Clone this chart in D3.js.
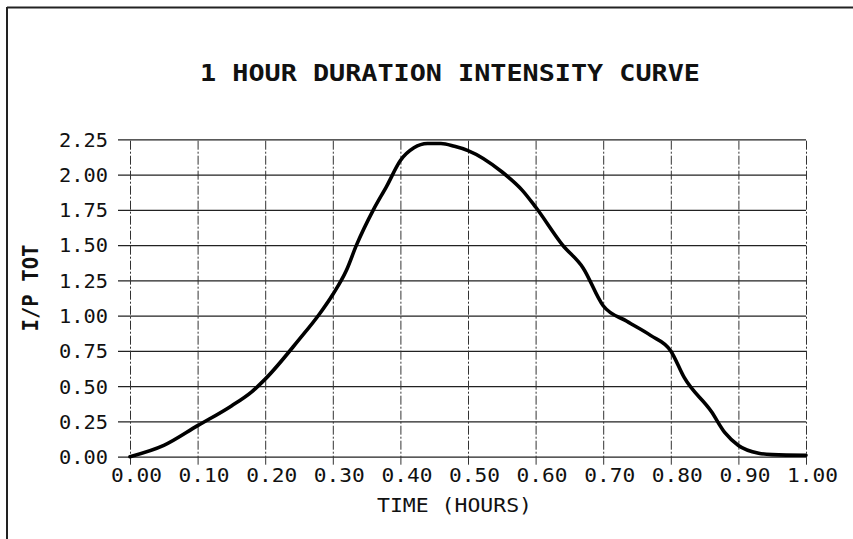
<!DOCTYPE html>
<html>
<head>
<meta charset="utf-8">
<script src="https://cdn.jsdelivr.net/npm/d3@7"></script>
<style>
  html, body { margin: 0; padding: 0; background: #fff; }
  svg { display: block; }
  .tick text, .lbl { font-family: "DejaVu Sans Mono", monospace; font-feature-settings: "zero" 1; fill: #111; }
</style>
</head>
<body>
<svg id="chart" width="853" height="539"></svg>
<script>
// Dimensionless rainfall intensity (I/P TOT) over a one-hour storm
const timeHours = [0.00, 0.05, 0.10, 0.15, 0.18, 0.20, 0.25, 0.28, 0.30, 0.32, 0.335, 0.36, 0.38, 0.40, 0.42, 0.44, 0.46, 0.48, 0.50, 0.55, 0.58, 0.60, 0.64, 0.67, 0.70, 0.735, 0.77, 0.80, 0.82, 0.86, 0.88, 0.90, 0.93, 0.95, 1.00];
const intensity = [0.00, 0.08, 0.22, 0.36, 0.46, 0.55, 0.83, 1.01, 1.15, 1.32, 1.50, 1.75, 1.92, 2.10, 2.19, 2.22, 2.22, 2.20, 2.17, 2.02, 1.89, 1.77, 1.50, 1.34, 1.07, 0.96, 0.86, 0.75, 0.56, 0.32, 0.17, 0.08, 0.025, 0.015, 0.01];

const xTickValues = [0, 0.1, 0.2, 0.3, 0.4, 0.5, 0.6, 0.7, 0.8, 0.9, 1.0];
const xTickLabels = ["0.00", "0.10", "0.20", "0.30", "0.40", "0.50", "0.60", "0.70", "0.80", "0.90", "1.00"];
const yTickValues = [0, 0.25, 0.5, 0.75, 1.0, 1.25, 1.5, 1.75, 2.0, 2.25];
const yTickLabels = ["0.00", "0.25", "0.50", "0.75", "1.00", "1.25", "1.50", "1.75", "2.00", "2.25"];

const titleText = "1  HOUR DURATION INTENSITY CURVE";
const xTitle = "TIME (HOURS)";
const yTitle = "I/P TOT";

const svg = d3.select("#chart");

const plot = { left: 130, right: 806, top: 139.3, bottom: 456.7 };
const x = d3.scaleLinear().domain([0, 1]).range([plot.left, plot.right]);
const y = d3.scaleLinear().domain([0, 2.25]).range([plot.bottom, plot.top]);

// page frame (top and left edges)
svg.append("line").attr("x1", 7).attr("y1", 7.5).attr("x2", 853).attr("y2", 7.5)
  .attr("stroke", "#222").attr("stroke-width", 2);
svg.append("line").attr("x1", 7).attr("y1", 7).attr("x2", 7).attr("y2", 539)
  .attr("stroke", "#222").attr("stroke-width", 2);

// horizontal grid with left ticks and labels
const yAxisX = plot.left - 12;
const yAxis = d3.axisLeft(y)
  .tickValues(yTickValues)
  .tickFormat((d, i) => yTickLabels[i])
  .tickSize(-(plot.right - yAxisX))
  .tickPadding(10);
const gy = svg.append("g").attr("transform", `translate(${yAxisX},0)`).call(yAxis);
gy.select(".domain").remove();
gy.selectAll(".tick line").attr("stroke", "#222").attr("stroke-width", 1.2);
gy.selectAll(".tick text")
  .attr("font-size", 19)
  .attr("textLength", 49).attr("lengthAdjust", "spacingAndGlyphs")
  .attr("dy", "0.36em");

// vertical dash-dot grid with bottom ticks and labels
const xAxisY = plot.bottom + 8;
const xAxis = d3.axisBottom(x)
  .tickValues(xTickValues)
  .tickFormat((d, i) => xTickLabels[i])
  .tickSize(-(xAxisY - plot.top))
  .tickPadding(4);
const gx = svg.append("g").attr("transform", `translate(0,${xAxisY})`).call(xAxis);
gx.select(".domain").remove();
gx.selectAll(".tick line").attr("stroke", "#333").attr("stroke-width", 1)
  .attr("stroke-dasharray", "9,2,2,2");
gx.selectAll(".tick text")
  .attr("font-size", 19)
  .attr("dx", 6)
  .attr("textLength", 51).attr("lengthAdjust", "spacingAndGlyphs");

// intensity curve
const line = d3.line()
  .x((d, i) => x(timeHours[i]))
  .y(d => y(d))
  .curve(d3.curveMonotoneX);
svg.append("path")
  .attr("d", line(intensity))
  .attr("fill", "none")
  .attr("stroke", "#000")
  .attr("stroke-width", 3.6)
  .attr("stroke-linejoin", "round")
  .attr("stroke-linecap", "round");

// titles
svg.append("text").attr("class", "lbl")
  .attr("x", 200).attr("y", 81)
  .attr("font-size", 23).attr("font-weight", "bold")
  .attr("textLength", 500).attr("lengthAdjust", "spacingAndGlyphs")
  .text(titleText);

svg.append("text").attr("class", "lbl")
  .attr("x", 377).attr("y", 512)
  .attr("font-size", 20)
  .attr("textLength", 155).attr("lengthAdjust", "spacingAndGlyphs")
  .text(xTitle);

svg.append("text").attr("class", "lbl")
  .attr("transform", "translate(38,288) rotate(-90)")
  .attr("text-anchor", "middle")
  .attr("font-size", 22).attr("font-weight", "bold")
  .attr("textLength", 87).attr("lengthAdjust", "spacingAndGlyphs")
  .text(yTitle);
</script>
</body>
</html>
